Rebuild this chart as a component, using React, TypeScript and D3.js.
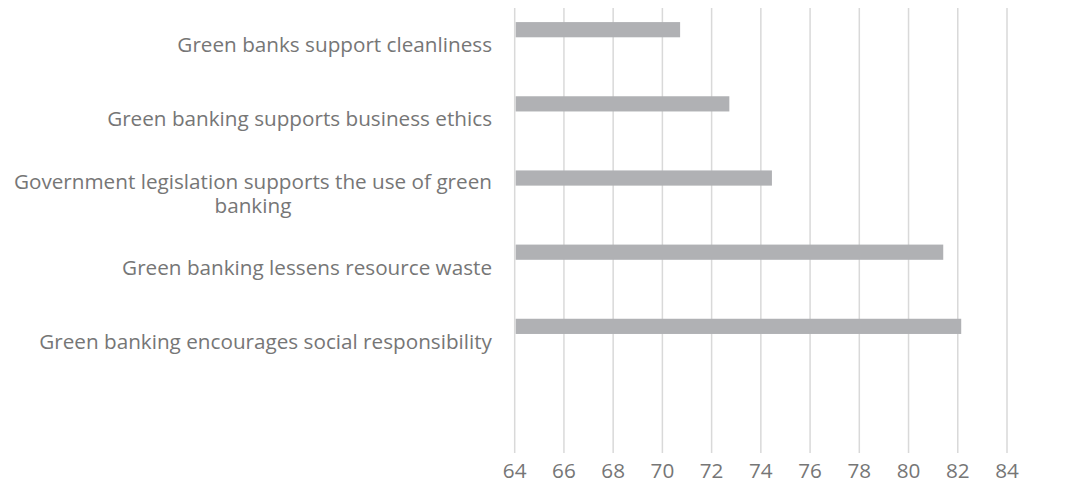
import React, { useEffect, useRef } from "react";
import * as d3 from "d3";

const categories: string[][] = [
  ["Green banks support cleanliness"],
  ["Green banking supports business ethics"],
  ["Government legislation supports the use of green", "banking"],
  ["Green banking lessens resource waste"],
  ["Green banking encourages social responsibility"],
  [""],
];
const values: number[] = [70.72, 72.72, 74.45, 81.41, 82.14];
const tickValues: number[] = [64, 66, 68, 70, 72, 74, 76, 78, 80, 82, 84];

const W = 1070;
const H = 493;
const FONT = "'Open Sans', sans-serif";
const FS = 20.7;
const TEXT = "#767676";

export default function App() {
  const ref = useRef<SVGSVGElement>(null);
  useEffect(() => {
    document.body.style.margin = "0";
    const svg = d3.select(ref.current);
    svg.selectAll("*").remove();

    const x = d3.scaleLinear().domain([64, 84]).range([514.7, 1007]);
    const y = d3
      .scaleBand<number>()
      .domain(categories.map((_, i) => i))
      .range([8, 453])
      .padding(0);
    const step = y.step();

    svg
      .append("g")
      .selectAll("line")
      .data(tickValues)
      .join("line")
      .attr("x1", (d) => x(d))
      .attr("x2", (d) => x(d))
      .attr("y1", 8)
      .attr("y2", 453)
      .attr("stroke", "#d9d9d9")
      .attr("stroke-width", 1.5);

    svg
      .append("g")
      .selectAll("rect")
      .data(values)
      .join("rect")
      .attr("x", x(64) + 1)
      .attr("y", (_, i) => (y(i) as number) + step * 0.19)
      .attr("width", (d) => x(d) - x(64) - 1)
      .attr("height", step * 0.205)
      .attr("fill", "#b0b1b4");

    svg
      .append("g")
      .selectAll("text")
      .data(tickValues)
      .join("text")
      .attr("x", (d) => x(d))
      .attr("y", 478)
      .attr("text-anchor", "middle")
      .attr("font-family", FONT)
      .attr("font-size", FS)
      .attr("fill", TEXT)
      .text((d) => String(d));

    const labelRight = 492;
    const lineH = 24;
    categories.forEach((lines, i) => {
      const cy = (y(i) as number) + step / 2;
      const n = lines.length;
      const g = svg.append("g");
      const first = g
        .append("text")
        .attr("x", labelRight)
        .attr("y", cy - ((n - 1) * lineH) / 2)
        .attr("dy", "0.35em")
        .attr("text-anchor", "end")
        .attr("font-family", FONT)
        .attr("font-size", FS)
        .attr("fill", TEXT)
        .text(lines[0]);
      const w0 = (first.node() as SVGTextElement).getComputedTextLength();
      for (let k = 1; k < n; k++) {
        g.append("text")
          .attr("x", labelRight - w0 / 2)
          .attr("y", cy - ((n - 1) * lineH) / 2 + k * lineH)
          .attr("dy", "0.35em")
          .attr("text-anchor", "middle")
          .attr("font-family", FONT)
          .attr("font-size", FS)
          .attr("fill", TEXT)
          .text(lines[k]);
      }
    });
  }, []);
  return <svg ref={ref} width={W} height={H} style={{ display: "block" }} />;
}
